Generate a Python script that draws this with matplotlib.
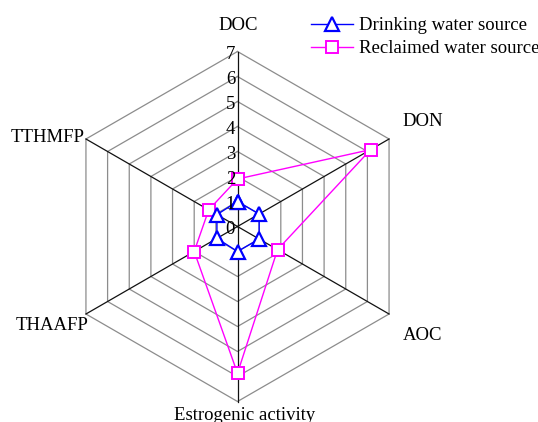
import numpy as np
import matplotlib
matplotlib.use("Agg")
import matplotlib.pyplot as plt
from matplotlib.lines import Line2D

plt.rcParams["font.family"] = ["Liberation Serif", "DejaVu Serif"]

AXES = ["DOC", "DON", "AOC", "Estrogenic activity", "THAAFP", "TTHMFP"]
DRINKING = [1.0, 1.0, 1.0, 1.0, 0.95, 0.95]
RECLAIMED = [1.9, 6.15, 1.85, 5.87, 2.0, 1.33]
RINGS = [1, 2, 3, 4, 5, 6, 7]
TICK_LABELS = ["0", "1", "2", "3", "4", "5", "6", "7"]

BLUE = "#0000FF"
MAGENTA = "#FF00FF"
GRID = "#8C8C8C"

# axes go clockwise from the top
angles = np.deg2rad(90 - 60 * np.arange(len(AXES)))


def to_xy(values):
    v = np.asarray(values, dtype=float)
    x = v * np.cos(angles)
    y = v * np.sin(angles)
    return np.append(x, x[0]), np.append(y, y[0])


fig = plt.figure(figsize=(5.38, 4.22), dpi=100)
ax = fig.add_axes([0, 0, 1, 1])
ax.set_xlim(-9.5, 12.02)
ax.set_ylim(-7.82, 9.06)
ax.set_aspect("equal")
ax.axis("off")

# hexagon rings
for r in RINGS:
    hx, hy = to_xy([r] * len(AXES))
    ax.plot(hx, hy, color=GRID, lw=0.9, zorder=1)

# spokes
rmax = max(RINGS)
for a in angles:
    ax.plot([0, rmax * np.cos(a)], [0, rmax * np.sin(a)], color="#111111", lw=0.9, zorder=2)

# radial tick labels along the DOC axis
for i, lab in enumerate(TICK_LABELS):
    ax.text(-0.1, i - 0.12, lab, ha="right", va="center", fontsize=13.5, zorder=5)

# axis labels
label_pos = {
    "DOC": (0.02, 8.06),
    "DON": (7.42, 4.22),
    "AOC": (7.42, -4.34),
    "Estrogenic activity": (0.3, -7.54),
    "THAAFP": (-7.42, -3.94),
    "TTHMFP": (-7.58, 3.54),
}
for name in AXES:
    x, y = label_pos[name]
    ax.text(x, y, name, ha="center", va="center", fontsize=13.5)

dx, dy = to_xy(DRINKING)
ax.plot(dx, dy, color=BLUE, lw=1.0, marker="^", markersize=10, mfc="white",
        mec=BLUE, mew=1.6, zorder=4)
rx, ry = to_xy(RECLAIMED)
ax.plot(rx, ry, color=MAGENTA, lw=1.0, marker="s", markersize=9, mfc="white",
        mec=MAGENTA, mew=1.4, zorder=3)

handles = [
    Line2D([], [], color=BLUE, lw=1.0, marker="^", markersize=10, mfc="white",
           mec=BLUE, mew=1.6),
    Line2D([], [], color=MAGENTA, lw=1.0, marker="s", markersize=9, mfc="white",
           mec=MAGENTA, mew=1.4),
]
fig.legend(handles, ["Drinking water source", "Reclaimed water source"],
           loc="upper left", bbox_to_anchor=(311 / 538, 1 - 17 / 422),
           frameon=False, fontsize=13.5, borderpad=0, borderaxespad=0,
           handlelength=2.25, handletextpad=0.3, labelspacing=0.32)

fig.savefig("out.png", dpi=100, facecolor="white")
